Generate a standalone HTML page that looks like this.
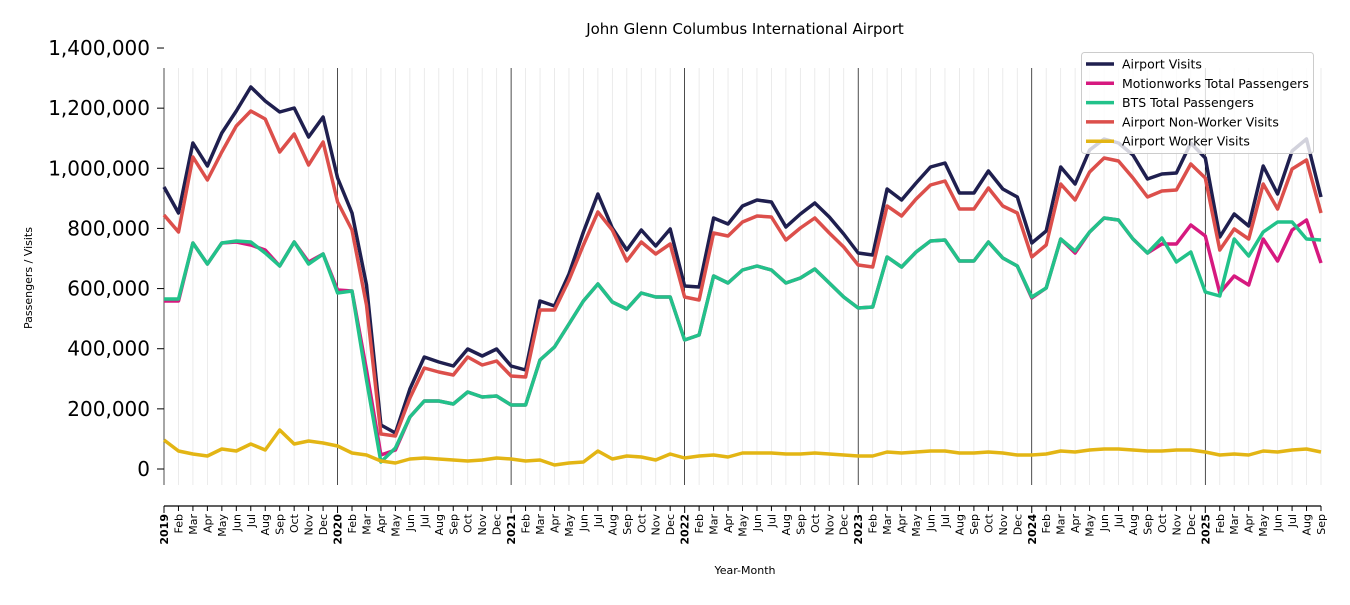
<!DOCTYPE html>
<html><head><meta charset="utf-8"><style>
body{margin:0;background:#fff;}
svg text{font-family:"DejaVu Sans","Liberation Sans",sans-serif;}
</style></head><body>
<svg id="s" width="1350" height="600" xmlns="http://www.w3.org/2000/svg"></svg>
<script>
const s=document.getElementById('s');
const X0=164,DX=14.4625;
const x=i=>X0+i*DX;
let h='';
for(let i=0;i<=80;i++){const yr=i%12==0;
 h+=`<line x1="${x(i)}" y1="68" x2="${x(i)}" y2="485" stroke="${yr?'#000':'#e6e6e6'}" stroke-width="${yr?0.7:0.8}"/>`;}
for(let k=0;k<=7;k++){const y=469-k*60.14;
 h+=`<line x1="157" y1="${y}" x2="164" y2="${y}" stroke="#000" stroke-width="1"/>`;
 h+=`<text x="150" y="${y+7}" font-size="20" text-anchor="end">${(k*200000).toLocaleString('en-US')}</text>`;}
h+=`<line x1="164" y1="506" x2="1321" y2="506" stroke="#000" stroke-width="1.2"/>`;
const M=['Jan','Feb','Mar','Apr','May','Jun','Jul','Aug','Sep','Oct','Nov','Dec'];
for(let i=0;i<=80;i++){const yr=i%12==0;
 h+=`<line x1="${x(i)}" y1="506" x2="${x(i)}" y2="${yr?513:511}" stroke="#000" stroke-width="1"/>`;
 const lab=yr?(2019+i/12):M[i%12];
 h+=`<text transform="translate(${x(i)+4},514) rotate(-90)" font-size="11" text-anchor="end" ${yr?'font-weight="bold"':''}>${lab}</text>`;}
h+=`<text x="745" y="34" font-size="15" text-anchor="middle">John Glenn Columbus International Airport</text>`;
h+=`<text x="745" y="574" font-size="11" text-anchor="middle">Year-Month</text>`;
h+=`<text transform="translate(32,278) rotate(-90)" font-size="11" text-anchor="middle">Passengers / Visits</text>`;
const V=[187,213,143,166,133,111,87,101,112,108,137,117,178,213,285,425,433,389,357,362,366,349,356,349,366,370,301,306,274,232,194,228,250,230,246,229,286,287,218,224,206,200,202,227,214,203,217,234,253,255,189,200,183,167,163,193,193,171,189,197,243,231,167,184,150,139,143,155,179,174,173,143,158,237,214,226,166,194,151,139,197];
const R=[215,232,157,180,152,126,111,119,152,134,165,142,202,230,305,434,436,398,368,372,375,357,365,361,376,377,310,310,280,245,212,230,261,242,254,244,297,300,233,236,222,216,217,240,228,218,233,247,265,267,206,216,199,185,181,209,209,188,206,213,257,245,184,200,172,158,161,178,197,191,190,164,178,250,229,239,184,209,169,160,213];
const G=[299,299,243,264,243,241,242,253,266,242,264,254,293,291,380,462,448,417,401,401,404,392,397,396,405,405,360,347,324,301,284,302,309,293,297,297,340,335,276,283,270,266,270,283,278,269,283,297,308,307,257,267,252,241,240,261,261,242,258,266,297,288,239,251,232,218,220,239,253,238,262,252,292,296,239,256,232,222,222,239,240];
const P=G.slice();
Object.entries({0:301,1:301,5:242,6:245,7:250,10:262,12:290,14:370,15:455,16:450,60:298,63:253,69:244,70:244,71:225,72:236,73:293,74:276,75:285,76:239,77:261,78:230,79:220,80:263}).forEach(([k,v])=>P[k]=v);
const W=[440,451,454,456,449,451,444,450,430,444,441,443,446,453,455,461,463,459,458,459,460,461,460,458,459,461,460,465,463,462,451,459,456,457,460,454,458,456,455,457,453,453,453,454,454,453,454,455,456,456,452,453,452,451,451,453,453,452,453,455,455,454,451,452,450,449,449,450,451,451,450,450,452,455,454,455,451,452,450,449,452];
const pl=(a,c)=>`<polyline fill="none" stroke="${c}" stroke-width="3.5" stroke-linejoin="round" points="${a.map((y,i)=>x(i).toFixed(1)+','+y).join(' ')}"/>`;
h+=pl(V,'#1f1f4f')+pl(P,'#d6197f')+pl(G,'#22c28a')+pl(R,'#dc4f4b')+pl(W,'#e3b514');
h+=`<rect x="1081.5" y="52.5" width="232" height="101" rx="3" fill="#fff" fill-opacity="0.8" stroke="#ccc"/>`;
const L=[['Airport Visits','#1f1f4f'],['Motionworks Total Passengers','#d6197f'],['BTS Total Passengers','#22c28a'],['Airport Non-Worker Visits','#dc4f4b'],['Airport Worker Visits','#e3b514']];
L.forEach((l,i)=>{const y=64+i*19.3;
 h+=`<line x1="1086" y1="${y}" x2="1114" y2="${y}" stroke="${l[1]}" stroke-width="3.5"/>`;
 h+=`<text x="1122" y="${y+4.5}" font-size="12.5">${l[0]}</text>`;});
s.innerHTML=h;
</script>
</body></html>
